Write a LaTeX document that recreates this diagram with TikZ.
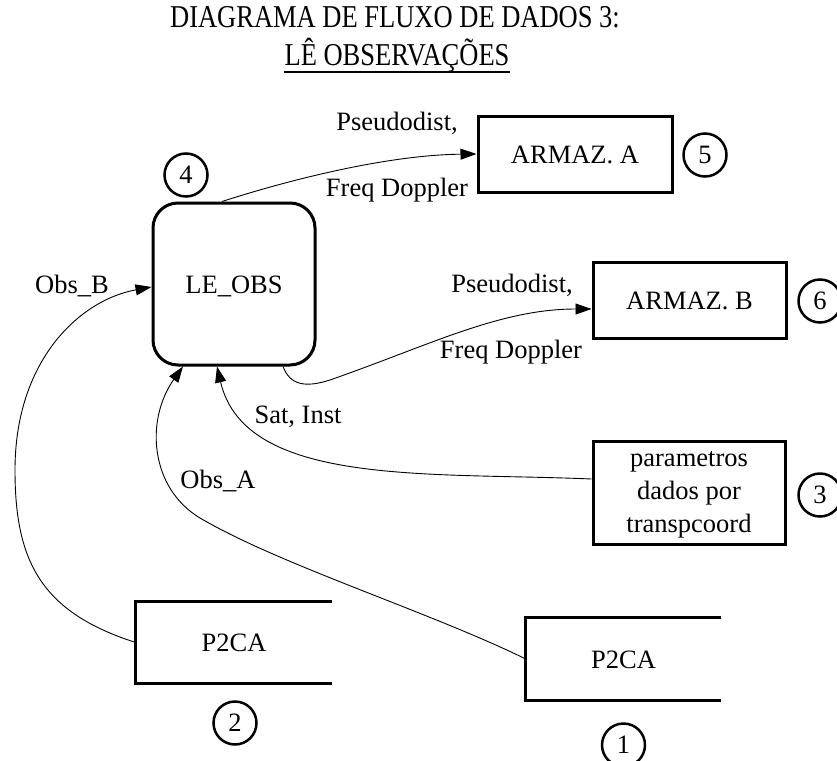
\documentclass[tikz,border=0pt]{standalone}
\usepackage{fontspec}
\usepackage{graphicx}
\setmainfont{Liberation Serif}
\usetikzlibrary{arrows.meta}
\begin{document}
\begin{tikzpicture}[x=1pt,y=-1pt,
  every node/.style={font=\fontsize{26.5}{33}\selectfont},
  procbox/.style={draw, line width=3pt, rounded corners=25pt, minimum width=162pt,
    minimum height=162pt, inner sep=0pt, text height=18pt, text depth=0pt},
  storebox/.style={draw, line width=3pt, inner sep=0pt, text height=18pt, text depth=0pt},
  openstore/.style={inner sep=0pt, text height=18pt, text depth=0pt},
  storeline/.style={line width=3pt},
  numcircle/.style={circle, draw, line width=2.5pt, minimum size=43pt, inner sep=0pt},
  lbl/.style={inner sep=0pt, anchor=base},
  flow/.style={line width=0.9pt, -{Triangle[length=16pt,width=11pt]}}
]
\useasboundingbox (0,0) rectangle (837,760);

% title
\node[lbl] (t1) at (395,28) {\scalebox{1}[1.2]{DIAGRAMA DE FLUXO DE DADOS 3:}};
\node[lbl] (t2) at (397,65) {\scalebox{1}[1.2]{LÊ OBSERVAÇÕES}};
\draw[line width=1.3pt] ([yshift=-7pt]t2.base west) -- ([yshift=-7pt]t2.base east);

% process and stores
\node[procbox] (leobs) at (234,284) {LE\_OBS};
\node[storebox, minimum width=194pt, minimum height=76pt] (armA) at (575,154) {ARMAZ. A};
\node[storebox, minimum width=193pt, minimum height=76pt] (armB) at (689.5,300) {ARMAZ. B};
\node[storebox, minimum width=192pt, minimum height=103pt] (param) at (689,492.5) {};
\node[align=center, inner sep=0pt] (paramtxt) at (689,495) {parametros\\dados por\\transpcoord};

\node[openstore, minimum width=196pt, minimum height=81pt] (storeB) at (234,642.5) {P2CA};
\node[openstore, minimum width=195pt, minimum height=82pt] (storeA) at (623.5,659) {P2CA};
\draw[storeline] (storeB.north east) -- (storeB.north west) -- (storeB.south west) -- (storeB.south east);
\draw[storeline] (storeA.north east) -- (storeA.north west) -- (storeA.south west) -- (storeA.south east);

% numbers
\node[numcircle] (n4) at (186,175) {4};
\node[numcircle] (n5) at (705,155) {5};
\node[numcircle] (n6) at (820,301) {6};
\node[numcircle] (n3) at (820,495) {3};
\node[numcircle] (n2) at (235,723) {2};
\node[numcircle] (n1) at (623.5,745) {1};

% data flows
\draw[flow] ([xshift=-12pt]leobs.north) .. controls (295,178) and (390,155) .. (armA.west);
\draw[flow] ([xshift=49pt]leobs.south) .. controls (290,385) and (305,388) .. (330,380)
  .. controls (430,345) and (500,309) .. ([yshift=-9pt]armB.west);
\draw[flow] ([yshift=13.5pt]param.west) .. controls (430,472) and (245,487) .. ([xshift=-17pt]leobs.south);
\draw[flow] (storeA.west) .. controls (430,612) and (280,565) .. (200,518)
  .. controls (150,488) and (145,420) .. ([xshift=-51pt]leobs.south);
\draw[flow] (storeB.west) .. controls (40,612) and (15,560) .. (15,470)
  .. controls (15,360) and (80,300) .. ([yshift=-3pt]leobs.west);

% flow labels
\node[lbl] (lA1) at (397,130) {Pseudodist,};
\node[lbl] (lA2) at (397,196) {Freq Doppler};
\node[lbl] (lB1) at (512,292) {Pseudodist,};
\node[lbl] (lB2) at (511,358) {Freq Doppler};
\node[lbl] (lsat) at (298,423) {Sat, Inst};
\node[lbl] (lobsA) at (218,488) {Obs\_A};
\node[lbl] (lobsB) at (72,293) {Obs\_B};
\end{tikzpicture}
\end{document}
